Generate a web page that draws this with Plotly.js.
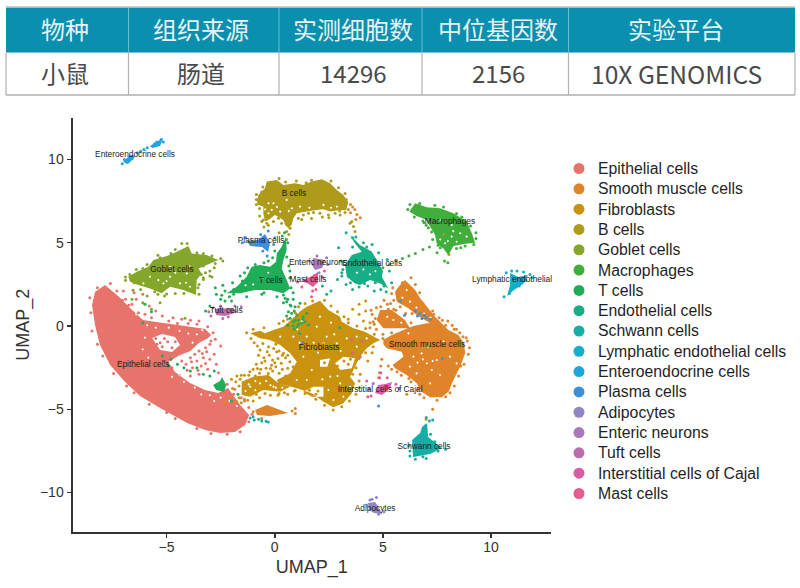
<!DOCTYPE html>
<html><head><meta charset="utf-8">
<script src="https://cdn.plot.ly/plotly-3.0.1.min.js"></script>
<style>html,body{margin:0;padding:0;background:#fff}</style></head>
<body><div id="chart" style="width:800px;height:588px"></div>
<script>
const tableHeaders = ["物种","组织来源","实测细胞数","中位基因数","实验平台"];
const tableRow = ["小鼠","肠道","14296","2156","10X GENOMICS"];
const cellTypes = ["Epithelial cells","Smooth muscle cells","Fibroblasts","B cells","Goblet cells","Macrophages","T cells","Endothelial cells","Schwann cells","Lymphatic endothelial cells","Enteroendocrine cells","Plasma cells","Adipocytes","Enteric neurons","Tuft cells","Interstitial cells of Cajal","Mast cells"];
const cellColors = ["#E8736A","#E0842A","#C9930F","#AE9A1B","#84A62B","#3FAE3A","#1FAE57","#16AE85","#16ADA5","#13AEC7","#1FA5DE","#3D90D8","#8F85C8","#AA78B8","#BC6CAC","#DA5CA5","#E65C92"];

// Dense parts of each cluster: outer outlines [UMAP_1, UMAP_2] (null separates pieces)
const epithelialOutline = [[-7.85,2.46],[-8.31,2.04],[-8.45,1.26],[-8.31,0.06],[-8.08,-1.14],[-7.61,-2.34],[-6.92,-3.36],[-6.23,-4.2],[-5.3,-4.92],[-4.05,-5.83],[-3.22,-6.25],[-2.53,-6.43],[-1.84,-6.37],[-1.37,-5.95],[-1.19,-5.35],[-1.6,-4.74],[-2.16,-3.72],[-2.62,-4.02],[-3.22,-3.84],[-3.92,-3.42],[-4.61,-2.76],[-4.93,-2.16],[-4.4,-1.75],[-3.9,-1.5],[-3.5,-1.0],[-3.1,-0.75],[-2.94,-0.54],[-3.22,-0.18],[-4.15,0],[-5.16,0.18],[-6.09,0.36],[-6.69,1.08],[-7.24,1.8]];
const smoothOutline = [[5.02,-0.84],[5.41,-0.54],[5.95,-0.24],[6.41,0],[7.03,0.16],[7.64,0.2],[8.03,-0.24],[8.49,-0.54],[8.75,-1.04],[8.8,-1.64],[8.57,-2.44],[8.26,-3.24],[8.03,-3.94],[7.72,-4.28],[7.18,-4.28],[6.79,-3.94],[6.56,-3.44],[6.1,-2.94],[5.56,-2.54],[5.45,-2.34],[5.95,-1.84],[5.87,-1.54],[5.18,-1.34],[5.02,-1.1],null,[6.02,2.76],[6.49,2.16],[6.72,1.66],[7.41,0.56],[7.95,-0.14],[7.18,0.16],[6.56,0.66],[6.18,1.06],[5.64,1.46],[5.56,2.06],[5.79,2.46],null,[4.87,0.96],[5.41,0.96],[6.02,0.36],[6.25,-0.14],[5.02,-0.14],[4.71,0.36],null,[-0.91,-5.04],[-0.36,-4.74],[0.25,-5.04],[0.62,-5.22],[-0.22,-5.4],[-0.82,-5.34]];
const fibroOutline = [[-1.14,-0.44],[-0.68,-0.28],[-0.45,-0.44],[-0.06,-0.24],[0.4,-0.04],[1.25,0.96],[1.48,1.16],[2.09,1.52],[2.48,0.96],[3.02,0.56],[3.1,0.26],[3.64,-0.14],[4.17,-0.34],[4.87,-0.84],[4.56,-1.04],[4.25,-1.34],[3.94,-1.84],[3.71,-2.44],[3.48,-3.04],[3.71,-3.44],[3.56,-4.04],[3.17,-4.64],[2.71,-4.88],[2.25,-4.54],[1.71,-4.04],[1.02,-3.74],[0.17,-3.44],[0.09,-3.24],[0.71,-2.84],[1.02,-2.14],[0.71,-1.64],[0.25,-1.14],[-0.22,-0.84],[-0.68,-0.74],null,[-1.53,-3.34],[-0.99,-3.04],[-0.29,-2.94],[0.17,-3.44],[0.71,-3.64],[0.25,-3.94],[-0.53,-3.84],[-1.14,-4.24],[-1.53,-4.14]];
const bOutline = [[-0.83,7.47],[-0.76,7.87],[-0.45,8.27],[-0.37,8.67],[0.09,8.77],[0.4,8.47],[0.94,8.57],[1.32,8.47],[1.71,8.67],[2.17,8.81],[2.56,8.57],[2.87,8.17],[3.17,7.87],[3.4,7.45],[3.3,6.95],[3.02,6.97],[2.56,6.87],[2.25,7.01],[1.94,6.97],[1.48,6.87],[1.02,6.77],[0.86,6.47],[0.78,6.07],[0.63,5.87],[0.48,6.07],[0.4,6.37],[0.01,6.67],[-0.29,6.37],[-0.45,6.27],[-0.53,6.77],[-0.53,7.17],[-0.76,7.27]];
const gobletOutline = [[-6.77,2.96],[-6.38,3.26],[-5.84,3.56],[-5.61,3.96],[-4.99,4.2],[-4.53,4.46],[-3.99,4.8],[-3.84,4.36],[-3.15,4.26],[-2.61,3.96],[-2.99,3.76],[-3.53,3.46],[-3.38,3.16],[-3.61,2.76],[-3.64,1.86],[-4.22,2.16],[-4.84,2.36],[-5.23,1.96],[-5.77,2.26],[-6.3,2.46],[-6.69,2.66]];
const macroOutline = [[6.22,6.87],[6.49,7.37],[7.03,7.13],[7.64,7.07],[8.26,6.77],[8.87,6.27],[9.11,5.57],[9.26,5.0],[8.72,4.92],[8.26,4.8],[8.03,4.26],[7.8,4.66],[7.49,4.96],[7.41,5.47],[7.18,5.97],[7.03,6.37],[6.56,6.61]];
const tOutline = [[-2.22,1.96],[-1.76,2.36],[-1.3,2.96],[-1.07,3.56],[-0.68,3.66],[-0.22,3.56],[0.06,3.86],[0.09,4.36],[0.32,4.76],[0.52,5.36],[0.55,4.56],[0.4,3.96],[0.32,3.46],[0.55,2.76],[0.71,2.26],[0.4,1.96],[-0.22,2.16],[-0.91,2.16],[-1.6,1.96],null,[-2.44,-3.06],[-2.25,-3.54],[-2.34,-3.96],[-2.71,-3.84],[-2.85,-3.54],[-2.53,-3.3]];
const endoOutline = [[3.48,5.47],[3.94,4.87],[4.48,4.47],[4.75,3.9],[5.0,3.3],[4.95,2.96],[5.25,2.26],[4.87,2.56],[4.41,2.76],[3.94,2.46],[3.71,2.56],[3.33,2.96],[3.25,3.66],[3.56,4.26],[4.02,4.46],[3.71,4.96]];
const schwannOutline = [[7.04,-5.83],[7.09,-6.67],[7.73,-7.33],[7.18,-7.69],[6.39,-7.87],[6.35,-6.85],[6.72,-6.43],[6.81,-6.07]];
const lymphOutline = [[10.88,3.18],[11.25,2.94],[11.71,3.06],[11.48,2.52],[11.06,2.16],[10.74,1.8],[10.88,2.46]];
const enteroOutline = [[-7.01,9.85],[-6.69,10.27],[-6.46,10.21],[-6.78,9.73],null,[-5.77,10.81],[-5.16,11.29],[-5.3,10.81],[-5.67,10.69]];
const plasmaOutline = [[-1.28,5.1],[-0.77,5.17],[-0.45,5.53],[-0.22,4.98],[-0.31,4.44],[-0.59,4.74],[-1.14,4.8]];
const adipoOutline = [[4.31,-10.63],[4.64,-10.57],[4.87,-11.05],[4.96,-11.29],[4.59,-11.23],[4.36,-11.05]];
const entericOutline = [[1.77,4.08],[2.33,3.96],[2.19,3.48],[1.86,3.36],[1.72,3.66]];
const tuftOutline = [[-2.76,1.02],[-1.97,1.08],[-1.7,0.84],[-2.3,0.6],[-2.71,0.66]];
const iccOutline = [[5.1,-3.48],[5.42,-3.36],[5.33,-3.72],[4.96,-4.14],[4.64,-4.02],[4.78,-3.54]];
const mastOutline = [[1.22,2.7],[1.72,3.0],[2.0,3.24],[2.0,2.64],[1.77,2.34],[1.49,2.58]];

// Larger empty areas inside clusters
const epithelialHoles = [[-5.67,-0.72],[-5.3,-1.44],[-4.75,-1.56],[-4.38,-1.14],[-4.61,-0.66],[-5.21,-0.48]];
const fibroHoles = [[1.32,-3.94],[1.79,-3.64],[2.25,-3.64],[2.25,-4.24],[1.71,-4.24],null,[2.79,-2.24],[3.17,-1.84],[3.71,-1.94],[3.56,-2.54],[3.02,-2.64],null,[2.09,-2.04],[2.56,-1.94],[2.43,-2.44],[2.09,-2.44]];

// Small white specks seen inside the dense parts
const epithelialGaps = [[-5.9,0.05],[-5.5,-0.1],[-4.9,-0.1],[-4.4,-0.3],[-4.0,-0.45],[-3.6,-0.5],[-3.8,-1.0],[-6.0,-0.7],[-6.1,-1.4],[-5.85,-1.9],[-4.75,-3.05],[-4.2,-3.35],[-3.7,-3.7],[-3.0,-4.15],[-2.5,-4.3],[-2.1,-4.5],[-1.75,-4.8],[-3.35,-0.25],[-6.4,0.7],[-5.1,-2.3],[-4.4,-2.95],[-3.4,-4.1],[-2.8,-4.5]];
const smoothGaps = [[6.41,-1.84],[7.03,-2.24],[6.25,-2.44],[7.26,-2.64],[7.64,-2.94],[6.79,-1.64],[7.49,-2.04],[8.1,-1.84],[7.1,-1.24],[7.8,-0.94],[6.56,-2.84],[7.18,-3.44],[6.18,-0.44],[8.41,-2.24],[6.1,2.16],[6.25,1.46],[5.48,0.36],[6.85,-2.0],[7.3,-2.1],[6.6,-2.2],[5.85,0.2],[5.2,0.55],[6.9,0.75],[7.2,0.5],[6.55,1.1],[5.9,1.7]];
const fibroGaps = [[1.48,-0.64],[1.94,-0.04],[2.4,-0.64],[2.87,-1.04],[3.33,-0.74],[3.79,-0.64],[4.25,-0.74],[1.32,-1.84],[1.71,-2.64],[1.48,-3.24],[1.02,-3.24],[2.56,-3.04],[3.02,-3.44],[3.48,-3.64],[2.48,-3.84],[0.25,-0.64],[0.86,-0.64],[-0.06,-3.64],[-0.68,-3.44],[-1.14,-3.64],[2.09,0.56],[2.25,-1.04],[3.17,-4.24],[2.71,-4.44],[3.79,-1.24],[1.05,-0.2],[1.6,-1.3],[2.0,-1.6],[2.75,-0.5],[3.05,-1.5],[1.15,-1.0],[1.25,0.3],[2.6,0.2],[2.9,-3.0],[2.2,-3.2],[1.8,-1.0],[-1.2,-3.5],[-0.9,-3.3],[-0.4,-3.3],[-0.9,-3.85],[-1.35,-3.9],[-0.2,-3.55],[0.05,-3.7],[0.35,-3.7]];
const bGaps = [[-0.29,7.37],[-0.14,6.97],[0.25,6.87],[0.79,7.07],[-0.29,6.77],[-0.06,7.37],[1.17,7.17],[2.25,7.27],[2.87,7.17],[0.55,7.57],[-0.45,7.0],[0.1,7.15],[0.65,6.9],[1.6,7.1],[2.6,7.1]];
const gobletGaps = [[-4.84,2.96],[-4.38,2.56],[-5.15,2.56],[-4.07,3.16],[-5.38,2.76],[-3.92,2.36],[-5.77,2.96],[-4.84,3.56],[-6.07,2.56],[-4.6,3.2],[-4.1,2.6],[-5.0,2.7],[-3.95,3.6]];
const macroGaps = [[7.8,5.47],[8.18,5.37],[8.57,5.57],[7.87,4.97],[8.41,5.06],[8.87,5.37],[8.18,6.07],[7.64,6.37],[8.0,5.1],[8.25,5.7],[7.65,5.2]];
const tGaps = [[-0.6,2.9],[-0.3,3.2],[-1.0,2.5],[-1.35,2.45]];
const endoGaps = [[4.1,3.4],[4.4,3.1],[3.8,3.2],[4.65,3.3]];
const noGaps = [];

// Individually read scattered cells
const epithelialPoints = [[-5.5,-0.75],[-5.3,-1.0],[-5.1,-0.75],[-5.2,-1.25],[-4.95,-0.95],[-4.75,-1.3],[-4.6,-0.95],[-5.45,-1.1],[-3.9,-1.9],[-3.7,-1.7],[-3.5,-1.5],[-3.2,-1.3],[-3.0,-1.1],[-3.6,-2.1],[-3.3,-1.9],[-3.0,-2.0],[-2.8,-1.7],[-2.7,-2.3],[-2.5,-1.2],[-3.1,-2.6],[-2.6,-2.8],[-4.1,-2.3],[-4.3,-2.1],[-3.8,-2.5],[-3.4,-2.4],[-6.4,1.6],[-6.1,1.9],[-5.8,1.2],[-5.5,0.9],[-6.0,0.7],[-5.2,0.6],[-4.7,0.5],[-4.3,0.4],[-3.9,0.35],[-3.5,0.3],[-6.5,2.0],[-7.0,2.1],[-6.9,1.6],[-6.6,1.3],[-6.3,0.8],[-5.7,0.5],[-4.9,0.3],[-4.5,0.15],[-4.0,0.15],[-3.6,0.1],[-3.1,-0.05],[-2.85,-0.4],[-2.2,-3.5],[-1.9,-4.1],[-1.4,-4.5],[-1.2,-4.9],[-1.05,-5.3],[-3.5,-2.9],[-3.9,-3.0],[-8.5,0.8],[-8.45,-0.3],[-8.2,-1.1],[-7.95,-1.8],[-7.45,-2.85],[-6.85,-3.6],[-6.5,-4.0],[-5.8,-4.7],[-5.0,-5.2],[-4.6,-5.55],[-3.6,-6.15],[-2.95,-6.45],[-2.2,-6.5],[-1.6,-6.35],[-1.2,-5.75],[-8.55,1.7],[-8.2,2.3],[-7.6,2.55],[-7.3,2.1],[-7.05,1.55],[-6.75,1.25],[-1.85,-3.8],[-1.55,-4.3],[-2.4,-3.65],[-4.75,-2.5],[-5.05,-2.1],[-3.35,-1.65],[-3.15,-1.55],[-2.95,-0.9],[-2.75,-0.8],[-3.85,-2.15],[-3.55,-2.65],[-3.2,-2.25],[-4.05,-2.65]];
const smoothPoints = [[3.5,7.3],[3.7,7.0],[3.8,6.7],[3.95,6.5],[3.3,7.6],[3.5,6.8],[3.6,7.15],[3.4,7.0],[3.75,6.4],[4.9,-2.4],[4.85,-2.8],[4.8,-3.1],[4.95,-2.0],[4.2,0.9],[4.5,0.7],[4.7,1.1],[4.4,0.2],[4.7,-0.2],[5.0,-0.5],[5.2,1.3],[5.5,1.0],[6.9,1.0],[7.3,0.9],[7.6,0.5],[8.0,0.3],[8.4,-0.2],[8.9,-0.9],[9.0,-1.3],[8.6,-2.4],[7.3,-5.0],[6.1,-4.1],[7.0,-5.6],[6.9,-0.6],[6.5,2.5],[6.3,2.9],[5.9,2.6],[0.95,-5.25],[0.8,-5.1],[8.1,-4.0],[5.4,-0.4],[5.9,0],[6.3,0.2],[7.9,0.05],[8.3,-0.2],[8.7,-0.65],[8.95,-1.7],[8.75,-2.3],[8.5,-3.0],[8.3,-3.6],[7.5,-4.45],[6.9,-4.3],[6.6,-3.8],[6.3,-3.35],[5.85,-2.95],[5.4,-2.6],[5.45,2.3],[5.4,1.95],[6.7,2.0],[6.85,1.35],[7.35,0.7],[7.75,0.35],[7.8,5.45],[8.26,4.95],[8.57,5.87],[7.95,4.52],[8.05,4.3],[5.05,1.55],[4.65,0.45],[4.45,0.95],[5.25,1.0],[5.6,0.95],[5.8,1.15],[6.05,0.75],[0.95,-4.95],[-1.0,-5.15],[-0.6,-5.55],[5.5,1.55],[5.35,1.35],[6.35,0.75],[4.55,0.25],[4.9,1.15],[8.2,0.05],[8.55,-0.4],[8.85,-0.7],[7.9,-4.25],[6.7,-4.1],[6.2,-3.15],[5.65,-2.75],[5.25,-2.4]];
const fiboPoints = [[-0.68,-1.44],[-0.29,-1.24],[0.09,-1.54],[0.4,-1.64],[-0.1,-2.04],[0.3,-2.24],[0.6,-2.54],[-0.4,-2.54],[0.2,-2.84],[-0.7,-2.84],[-0.1,-2.7],[0.5,-1.9],[-0.5,-1.9],[-1.0,-2.6],[-1.4,-2.95],[-1.8,-3.35],[-1.55,-2.95],[-1.95,-3.75],[-2.1,-4.3],[-1.75,-4.55],[-1.4,-4.4],[-1.0,-4.5],[-0.7,-4.3],[-0.2,-4.15],[0.2,-4.05],[0.6,-4.1],[0.6,0.4],[0.95,0.8],[1.1,1.15],[1.4,1.35],[1.75,1.5],[2.3,1.55],[2.6,1.2],[2.9,0.85],[3.2,0.55],[3.4,0.2],[3.8,0],[4.2,-0.15],[4.6,-0.5],[5.0,-0.75],[-1.3,-0.4],[-1.0,-0.2],[-0.5,-0.1],[0.2,0.15],[0.4,0.3],[3.4,-3.0],[3.9,-3.3],[3.9,-3.7],[3.75,-4.1],[3.45,-4.5],[3.1,-4.85],[2.7,-5.05],[2.3,-4.75],[1.9,-4.4],[1.4,-4.05],[0.9,-3.9],[3.9,-1.95],[4.2,-1.6],[4.55,-1.25],[3.75,-2.5],[3.6,-2.9],[1.6,-3.85],[2.0,-3.9],[1.9,-4.1],[3.2,-2.1],[3.4,-2.3],[2.9,-2.4],[3.5,-2.0],[2.3,-2.2],[3.9,0.7],[4.1,0.3],[4.4,-0.1],[3.4,0.4],[3.6,1.0],[3.9,1.3],[4.2,1.5],[4.6,0.1],[3.95,-2.9],[4.3,-2.1],[4.5,-1.6],[-1.3,-3.3],[-1.15,-2.75],[-0.85,-2.3],[-0.35,-1.55],[-0.15,-2.35],[0.05,-2.45],[-0.6,-2.2],[-0.9,-3.0],[-1.75,-3.0],[-2.0,-3.2],[-2.3,-4.6],[-1.55,-4.6],[0.05,-1.1],[0.85,-2.45],[1.05,-0.75],[-0.8,-1.2],[-1.1,-0.75],[3.15,-0.35],[-0.95,-1.0],[-0.55,-1.05],[-0.05,-1.35],[0.2,-1.5],[-0.75,-1.75],[-0.25,-1.75],[0.15,-1.95],[0.7,-2.15],[-0.8,-2.55],[-0.2,-2.55],[0.35,-2.6],[0.5,-3.0],[-1.2,-2.95],[-0.65,-2.6],[-1.6,-3.2],[-0.45,-2.1],[0.0,-2.2],[-0.3,-2.85],[0.35,-1.75],[0.6,-1.75],[-1.65,-4.3],[-1.25,-4.45],[-0.85,-4.1],[-0.45,-4.05],[0.15,-4.15],[0.45,-4.0],[0.95,-3.85],[-1.65,-3.6]];
const bPoints = [[1.56,6.77],[1.79,6.81],[2.09,6.77],[2.48,6.67],[2.79,6.77],[3.02,6.67],[3.25,6.81],[1.32,6.67],[1.09,6.47],[1.25,6.4],[1.7,6.45],[2.2,6.55],[3.56,6.27],[3.64,5.97],[3.71,5.67],[3.48,6.17],[-0.53,6.37],[-0.6,6.27],[-0.37,6.17],[-0.06,6.27],[0.17,6.47],[0.32,6.17],[0.71,5.87],[0.55,5.67],[0.65,5.5],[0.55,5.2],[-0.85,7.3],[-0.7,6.6],[-0.5,5.95],[0.2,5.6],[2.5,6.5],[3.0,6.9],[-0.85,7.9],[-0.55,8.35],[0.5,8.65],[1.0,8.7],[1.7,8.75],[2.6,8.7],[2.95,8.3],[3.25,7.95],[-0.85,7.6],[-0.6,8.05],[0.2,8.85],[1.45,8.6],[-0.7,7.05],[-0.3,6.05]];
const gobletPoints = [[-6.9,2.75],[-6.55,2.15],[-6.2,2.2],[-5.9,1.8],[-5.4,1.9],[-5.1,1.8],[-4.6,1.95],[-4.2,1.95],[-3.4,3.1],[-3.3,2.8],[-3.0,3.3],[-3.5,2.5],[-2.8,3.5],[-2.4,3.9],[-4.3,4.95],[-4.6,4.6],[-4.05,4.95],[-5.4,4.25],[-5.9,3.7],[-6.4,3.4],[-6.1,1.4],[-5.7,1.0],[-5.3,1.4],[-6.6,1.6],[-3.2,3.2],[-3.0,3.0],[-2.9,2.95],[-3.3,2.9],[-3.5,1.9],[-3.55,2.3],[-4.15,0.46],[-6.7,3.1],[-6.1,3.45],[-5.3,4.1],[-4.8,4.35],[-3.6,4.4],[-3.3,4.35],[-2.9,4.2],[-2.5,4.05],[-2.75,3.75],[-3.3,3.6],[-6.9,2.95],[-6.5,2.6],[-5.0,1.92],[-5.55,2.05]];
const macroPoints = [[5.0,3.5],[5.3,3.7],[5.6,3.9],[5.9,4.05],[6.2,4.2],[6.5,4.35],[6.85,4.6],[7.15,4.75],[7.85,3.9],[8.0,3.8],[8.6,4.7],[9.3,5.6],[9.2,4.9],[6.25,7.3],[7.4,7.25],[8.4,6.75],[9.05,6.0],[7.1,5.9],[7.5,4.4],[6.9,6.2],[6.15,7.0],[6.7,7.35],[7.8,7.15],[8.65,6.55],[9.3,5.25],[8.8,4.8],[8.4,4.65],[7.65,4.7],[7.3,5.2],[6.85,6.3],[6.45,6.55],[7.25,5.65],[7.0,6.05],[7.55,4.85]];
const tPoints = [[-2.5,1.6],[-2.3,1.5],[-2.0,1.5],[-1.9,2.2],[-1.5,2.7],[-1.4,3.2],[-0.9,3.7],[-0.3,3.9],[-0.1,4.1],[0.2,4.3],[0.35,5.4],[0.45,5.6],[0.7,3.3],[0.75,2.3],[0.85,2.0],[0.6,1.6],[0.75,1.2],[0.9,0.9],[0.55,0.6],[0.95,0.35],[0.6,0.05],[0.85,0],[1.1,0.1],[1.3,0.4],[0.9,-0.2],[1.15,-0.45],[0.4,1.4],[-3.0,1.2],[-2.75,2.3],[-2.4,2.45],[-2.7,1.9],[-3.2,0.9],[-4.8,-2.0],[-4.5,-2.3],[-4.2,-2.5],[-3.9,-2.7],[-3.6,-2.5],[-3.3,-2.9],[-3.0,-3.0],[-2.8,-2.7],[-5.2,-1.8],[-4.9,-2.4],[-6.1,0.2],[-6.0,1.3],[-5.7,0.85],[-2.0,-4.5],[-1.7,-4.1],[-0.5,2.0],[-1.0,2.9],[-1.9,1.9],[0.71,1.26],[0.94,1.16],[1.17,1.36],[0.63,0.86],[0.78,0.76],[1.02,0.66],[1.32,0.56],[1.48,0.76],[0.86,0.26],[1.09,0.36],[1.25,0.16],[0.71,0.46],[1.56,0.06],[0.55,1.46],[0.4,1.86],[0.48,1.66],[1.02,-0.04],[1.4,0.26],[-2.3,2.1],[-1.95,2.6],[-1.6,3.0],[-1.25,3.5],[-0.5,3.8],[0.7,2.9],[0.65,3.6],[0.55,4.15],[0.0,4.5],[0.6,5.0],[-2.45,1.85],[-2.1,1.75],[-1.3,1.75],[-0.6,1.9],[0.1,1.75],[0.85,1.6]];
const endoPoints = [[3.3,5.6],[3.6,5.3],[2.95,4.7],[2.9,2.8],[3.1,3.0],[3.3,2.5],[3.6,2.2],[3.9,2.35],[4.3,2.4],[4.6,2.1],[5.15,2.05],[5.4,2.6],[5.3,3.3],[5.2,4.0],[4.5,4.9],[4.8,4.4],[3.05,3.9],[3.1,3.2],[2.4,1.9],[2.6,2.1],[3.4,3.7],[4.9,2.2],[3.0,-0.1],[2.2,2.4],[3.75,5.35],[4.1,5.0],[4.25,4.75],[3.6,4.75],[3.15,3.4],[3.5,2.6],[4.15,2.55],[4.65,2.6],[5.05,2.4]];
const schwannPoints = [[-1.14,-5.53],[-0.95,-5.65],[-0.75,-5.6],[-0.6,-5.71],[-0.4,-5.72],[-0.3,-5.77],[-1.0,-5.45],[7.15,-5.7],[7.3,-5.65],[7.0,-5.5],[7.9,-7.4],[6.25,-7.8],[6.5,-8.0],[6.6,-7.1],[7.0,-7.95],[6.2,-7.2],[7.55,-7.5],[6.85,-7.85],[6.25,-7.5],[6.95,-6.0],[7.2,-6.5],[7.4,-6.95]];
const lymphPoints = [[10.7,3.2],[11.5,3.25],[11.8,3.1],[11.9,2.9],[10.6,1.75],[10.85,1.95],[11.3,2.4],[11.6,2.75],[10.95,3.3],[11.2,3.3],[11.05,2.95],[11.4,2.85],[10.95,2.65]];
const enteroPoints = [[-6.35,10.4],[-6.2,10.5],[-6.05,10.6],[-5.9,10.7],[-7.05,9.75],[-6.95,10.0],[-6.6,10.05],[-5.15,11.05],[-5.45,11.05],[-6.7,9.95],[-6.85,9.85],[-6.55,10.15],[-5.55,10.95],[-5.25,11.2]];
const plasmaPoints = [[-1.5,5.0],[-1.35,5.3],[-1.1,5.0],[-0.65,5.5],[-0.3,5.7],[0,5.3],[-0.05,4.9],[-0.35,4.2],[-0.55,4.5],[6.5,0.9],[6.7,0.75],[6.9,0.65],[7.0,0.5],[6.8,0.45],[7.2,0.4],[6.6,0.6],[7.75,-1.95],[6.0,0.65],[1.3,-1.0],[4.8,-4.8],[5.8,1.5]];
const adipoPoints = [[4.5,-10.4],[4.7,-10.3],[4.25,-10.75],[5.05,-11.15],[4.8,-11.3],[4.4,-10.45]];
const entericPoints = [[1.6,3.9],[2.45,3.7],[2.05,3.2],[1.85,3.05],[2.4,4.1],[1.95,4.2]];
const tuftPoints = [[-3.05,0.85],[-2.85,1.1],[-2.5,1.2],[-1.85,1.2],[-1.55,1.15],[-2.4,0.45],[-2.15,0.55],[-2.95,0.6]];
const iccPoints = [[4.85,-3.1],[4.9,-2.8],[3.95,-1.85],[3.6,-1.6],[4.45,-4.2],[4.3,-4.25],[5.6,-3.5],[5.75,-3.75],[4.25,-3.3],[4.35,-3.8],[5.2,-3.1],[4.55,-3.45]];
const mastPoints = [[1.05,2.65],[2.2,2.95],[2.3,3.3],[1.25,2.35],[1.75,2.1],[1.7,1.75],[1.9,2.2],[3.55,-0.8],[4.05,-0.9]];

const outlines = [epithelialOutline,smoothOutline,fibroOutline,bOutline,gobletOutline,macroOutline,tOutline,endoOutline,schwannOutline,lymphOutline,enteroOutline,plasmaOutline,adipoOutline,entericOutline,tuftOutline,iccOutline,mastOutline];
const holes = [epithelialHoles,noGaps,fibroHoles,noGaps,noGaps,noGaps,noGaps,noGaps,noGaps,noGaps,noGaps,noGaps,noGaps,noGaps,noGaps,noGaps,noGaps];
const gaps = [epithelialGaps,smoothGaps,fibroGaps,bGaps,gobletGaps,macroGaps,tGaps,endoGaps,noGaps,noGaps,noGaps,noGaps,noGaps,noGaps,noGaps,noGaps,noGaps];
const scatterCells = [epithelialPoints,smoothPoints,fiboPoints,bPoints,gobletPoints,macroPoints,tPoints,endoPoints,schwannPoints,lymphPoints,enteroPoints,plasmaPoints,adipoPoints,entericPoints,tuftPoints,iccPoints,mastPoints];

const labelNames = ["Epithelial cells","Enteroendocrine cells","Goblet cells","B cells","Plasma cells","T cells","Tuft cells","Enteric neurons","Mast cells","Endothelial cells","Macrophages","Lymphatic endothelial","Fibroblasts","Smooth muscle cells","Interstitial cells of Cajal","Schwann cells","Adipocytes"];
const labelX = [-6.08,-6.46,-4.75,0.89,-0.63,-0.19,-2.25,2.0,1.54,4.5,8.10,10.97,2.05,7.04,4.87,6.90,4.64];
const labelY = [-2.34,10.27,3.36,7.93,5.1,2.70,0.90,3.78,2.76,3.72,6.25,2.76,-1.32,-1.14,-3.84,-7.27,-10.99];

// table geometry (page pixels) and text centres
const colEdges = [6,128.5,279,422,568.5,795];
const colCentres = [65,201,353,498,676];

const splitPieces = o => { const r=[[]]; o.forEach(p=>{ if(p===null) r.push([]); else r[r.length-1].push(p); }); return r.filter(a=>a.length); };
const area = a => a.reduce((s,p,i)=>{const q=a[(i+1)%a.length]; return s+p[0]*q[1]-q[0]*p[1];},0);
const orient = (a,sign) => (area(a)*sign>0 ? a : a.slice().reverse());
function buildPath(o,h,g){
  const X=[],Y=[];
  const add=a=>{a.forEach(p=>{X.push(p[0]);Y.push(p[1]);});X.push(null);Y.push(null);};
  splitPieces(o).forEach(a=>add(orient(a,1)));
  splitPieces(h).forEach(a=>add(orient(a,-1)));
  g.forEach(c=>add(orient([[c[0]-.06,c[1]],[c[0],c[1]-.08],[c[0]+.06,c[1]],[c[0],c[1]+.08]],-1)));
  return {X,Y};
}
const pick = (a,i) => a.map(p => p[i]);
const traces = [];
outlines.forEach((o,i)=>{
  const P=buildPath(o,holes[i],gaps[i]);
  traces.push({type:'scatter',mode:'none',x:P.X,y:P.Y,fill:'toself',fillcolor:cellColors[i],hoverinfo:'skip',showlegend:false,connectgaps:false});
  traces.push({type:'scatter',mode:'markers',name:cellTypes[i],x:pick(scatterCells[i],0),y:pick(scatterCells[i],1),marker:{color:cellColors[i],size:3},showlegend:false});
});
traces.push({type:'scatter',mode:'text',x:labelX,y:labelY,text:labelNames,textposition:'middle center',textfont:{family:'Liberation Sans',size:8.3,color:'#1a1a1a'},hoverinfo:'skip',showlegend:false,cliponaxis:false});
traces.push({type:'scatter',mode:'markers',xaxis:'x2',yaxis:'y2',x:cellTypes.map(()=>0),y:cellTypes,marker:{color:cellColors,size:11},hoverinfo:'skip',showlegend:false});
traces.push({type:'scatter',mode:'text',xaxis:'x3',yaxis:'y3',x:cellTypes.map(()=>1),y:cellTypes,text:cellTypes,textposition:'middle right',textfont:{family:'Liberation Sans',size:15.8,color:'#1f1f1f'},hoverinfo:'skip',showlegend:false,cliponaxis:false});

const px = (x)=>x/800, py=(y)=>1-y/588;
const shapes = [
  {type:'rect',xref:'paper',yref:'paper',x0:px(6),x1:px(795),y0:py(52),y1:py(7.5),fillcolor:'#0A8FAE',line:{width:0}},
  {type:'line',xref:'paper',yref:'paper',x0:px(6),x1:px(795),y0:py(7),y1:py(7),line:{color:'#B9B9B9',width:1.5}},
  {type:'line',xref:'paper',yref:'paper',x0:px(6),x1:px(795),y0:py(95),y1:py(95),line:{color:'#B0B0B0',width:1.5}},
  {type:'line',xref:'paper',yref:'paper',x0:px(6),x1:px(795),y0:py(52.5),y1:py(52.5),line:{color:'#7FC3D4',width:1}}
];
colEdges.forEach((e,i)=>{
  if(i>0&&i<colEdges.length-1) shapes.push({type:'line',xref:'paper',yref:'paper',x0:px(e),x1:px(e),y0:py(8),y1:py(52),line:{color:'#6DB9CD',width:1}});
  shapes.push({type:'line',xref:'paper',yref:'paper',x0:px(e),x1:px(e),y0:py(53),y1:py(95),line:{color:'#B0B0B0',width:1.2}});
});
const annotations = [];
tableHeaders.forEach((t,i)=>annotations.push({xref:'paper',yref:'paper',x:px(colCentres[i]),y:py(28),text:t,showarrow:false,xanchor:'center',yanchor:'middle',font:{family:'"Noto Sans CJK SC"',size:24,color:'#E6F4F7'}}));
tableRow.forEach((t,i)=>annotations.push({xref:'paper',yref:'paper',x:px(colCentres[i]),y:py(73),text:t,showarrow:false,xanchor:'center',yanchor:'middle',font:{family:'"Noto Sans CJK SC"',size:i===4?24.6:24,color:'#4A4A4A'}}));

const layout = {width:800,height:588,margin:{l:0,r:0,t:0,b:0,pad:0},paper_bgcolor:'#fff',plot_bgcolor:'rgba(0,0,0,0)',showlegend:false,
  font:{family:'Liberation Sans',color:'#333'},shapes,annotations,
  xaxis:{domain:[72.5/800,551/800],range:[-9.35,12.77],showgrid:false,zeroline:false,tickvals:[-5,0,5,10],ticks:'outside',ticklen:4,tickwidth:1.5,tickcolor:'#333',showline:true,linecolor:'#333',linewidth:2,anchor:'y',tickfont:{size:14,color:'#333'},ticklabelstandoff:-3,title:{text:'UMAP_1',font:{size:18,color:'#333'},standoff:7}},
  yaxis:{domain:[1-531.7/588,1-118/588],range:[-12.35,12.49],showgrid:false,zeroline:false,tickvals:[-10,-5,0,5,10],ticks:'outside',ticklen:4,tickwidth:1.5,tickcolor:'#333',showline:true,linecolor:'#333',linewidth:2,anchor:'x',tickfont:{size:14,color:'#333'},title:{text:'UMAP_2',font:{size:18,color:'#333'},standoff:6}},
  xaxis2:{domain:[569/800,799/800],range:[-0.526,11.58],visible:false,anchor:'y2'},
  yaxis2:{domain:[1-503.65/588,1-158.35/588],type:'category',categoryorder:'array',categoryarray:cellTypes,range:[16.5,-0.5],visible:false,anchor:'x2'},
  xaxis3:{domain:[569/800,799/800],range:[-0.526,11.58],visible:false,anchor:'y3'},
  yaxis3:{domain:[1-505.15/588,1-159.85/588],type:'category',categoryorder:'array',categoryarray:cellTypes,range:[16.5,-0.5],visible:false,anchor:'x3'}
};
Plotly.newPlot('chart',traces,layout,{displayModeBar:false,staticPlot:true});
</script></body></html>
